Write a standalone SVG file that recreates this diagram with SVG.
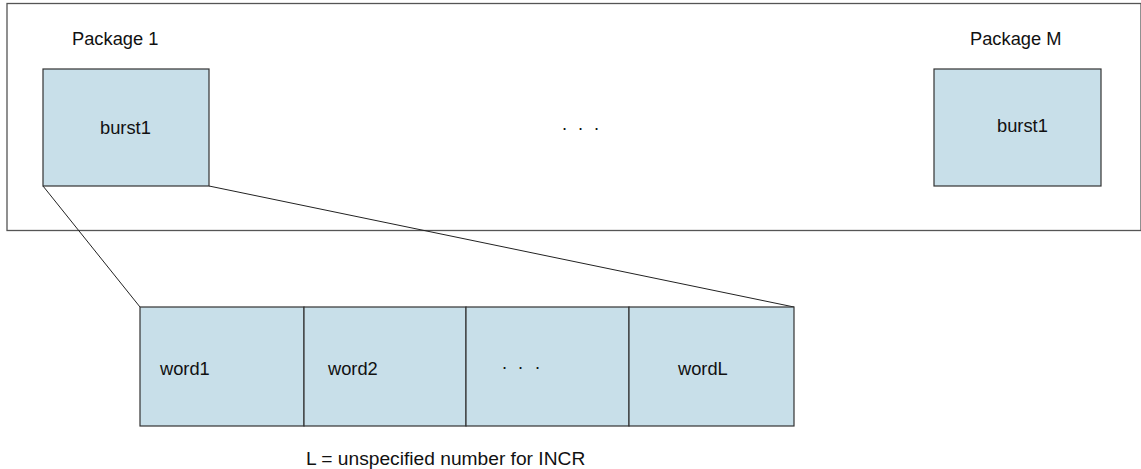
<svg xmlns="http://www.w3.org/2000/svg" width="1141" height="469" viewBox="0 0 1141 469">
<style>
.box{fill:#c8dfe9;stroke:#333;stroke-width:1.2}
.t{font-family:"Liberation Sans",Arial,sans-serif;font-size:18.3px;fill:#111}
.cap{font-size:19.2px}
.ln{stroke:#222;stroke-width:1;fill:none}
</style>
<rect x="0" y="0" width="1141" height="469" fill="#fff"/>
<g id="container">
<rect x="7" y="3.5" width="1134" height="227" fill="#fff" stroke="#555" stroke-width="1.3"/>
</g>
<g id="connectors">
<line class="ln" x1="43" y1="186" x2="140" y2="307"/>
<line class="ln" x1="209" y1="186" x2="794" y2="307"/>
</g>
<g id="pkg1">
<text class="t" x="72" y="45">Package 1</text>
<rect class="box" x="43" y="69" width="166" height="117"/>
<text class="t" x="100" y="134">burst1</text>
</g>
<g id="pkgdots">
<text class="t" x="561.5 577.5 593.5" y="134">···</text>
</g>
<g id="pkgM">
<text class="t" x="970" y="45">Package M</text>
<rect class="box" x="934" y="69" width="167" height="117"/>
<text class="t" x="997" y="132">burst1</text>
</g>
<g id="words">
<rect class="box" x="140" y="307" width="164" height="119"/>
<rect class="box" x="304" y="307" width="162" height="119"/>
<rect class="box" x="466" y="307" width="163" height="119"/>
<rect class="box" x="629" y="307" width="165" height="119"/>
<text class="t" x="160" y="375">word1</text>
<text class="t" x="328" y="375">word2</text>
<text class="t" x="501.5 517.5 534.5" y="373">···</text>
<text class="t" x="678" y="375">wordL</text>
</g>
<g id="caption">
<text class="t cap" x="306" y="465">L = unspecified number for INCR</text>
</g>
</svg>
